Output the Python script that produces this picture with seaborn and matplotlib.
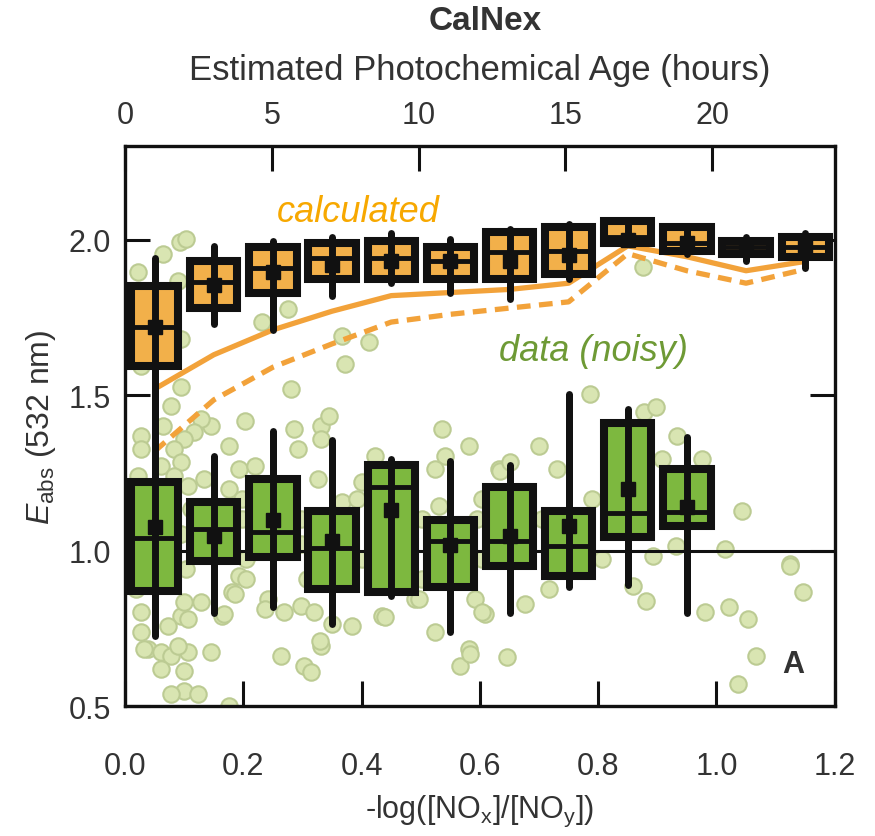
# CalNex E_abs box chart
import seaborn as sns
import matplotlib.pyplot as plt

# bin centres of -log(NOx/NOy)
calc_x = [0.05, 0.15, 0.25, 0.35, 0.45, 0.55, 0.65, 0.75, 0.85, 0.95, 1.05, 1.15]
data_x = [0.05, 0.15, 0.25, 0.35, 0.45, 0.55, 0.65, 0.75, 0.85, 0.95]

# calculated E_abs boxes (orange)
calc_lo = [1.30, 1.73, 1.71, 1.82, 1.86, 1.83, 1.81, 1.875, 1.99, 1.955, 1.93, 1.91]
calc_q1 = [1.595, 1.78, 1.83, 1.875, 1.875, 1.875, 1.875, 1.89, 1.99, 1.965, 1.955, 1.945]
calc_med = [1.72, 1.865, 1.91, 1.94, 1.94, 1.93, 1.96, 1.965, 2.01, 1.99, 1.975, 1.975]
calc_mean = [1.72, 1.855, 1.897, 1.92, 1.93, 1.93, 1.93, 1.95, 2.0, 1.99, 1.975, 1.975]
calc_q3 = [1.85, 1.93, 1.977, 1.99, 1.997, 1.977, 2.026, 2.04, 2.06, 2.04, 1.997, 2.01]
calc_hi = [1.94, 1.98, 1.997, 2.01, 2.02, 2.003, 2.035, 2.05, 2.06, 2.04, 2.01, 2.02]

# calculated curves
calc_solid = [1.52, 1.63, 1.71, 1.77, 1.82, 1.83, 1.84, 1.86, 1.98, 1.945, 1.90, 1.93]
calc_dash = [1.32, 1.485, 1.59, 1.665, 1.735, 1.76, 1.78, 1.80, 1.955, 1.90, 1.86, 1.905]

# measured E_abs boxes (green)
data_lo = [0.725, 0.80, 0.82, 0.765, 0.855, 0.74, 0.80, 0.883, 0.89, 0.80]
data_q1 = [0.87, 0.967, 0.98, 0.877, 0.867, 0.883, 0.95, 0.92, 1.045, 1.08]
data_med = [1.04, 1.07, 1.06, 1.01, 1.205, 1.03, 1.03, 1.015, 1.12, 1.124]
data_mean = [1.075, 1.047, 1.10, 1.03, 1.13, 1.02, 1.047, 1.08, 1.20, 1.14]
data_q3 = [1.22, 1.157, 1.23, 1.128, 1.275, 1.10, 1.205, 1.128, 1.41, 1.263]
data_hi = [1.45, 1.305, 1.385, 1.355, 1.295, 1.29, 1.275, 1.505, 1.455, 1.366]

# individual noisy data points
pts_x = [0.022, 0.064, 0.092, 0.103, 0.090, 0.276, 0.231, 0.366, 0.412, 0.095,
         0.027, 0.095, 0.078, 0.064, 0.027, 0.027, 0.146, 0.129, 0.117, 0.100,
         0.083, 0.061, 0.095, 0.176, 0.202, 0.192, 0.219, 0.281, 0.286, 0.293,
         0.332, 0.344, 0.332, 0.371, 0.536, 0.581, 0.541, 0.632, 0.422, 0.400,
         0.327, 0.366, 0.134, 0.107, 0.083, 0.022, 0.175, 0.197, 0.531, 0.524,
         0.786, 0.700, 0.634, 0.651, 0.878, 0.897, 0.934, 1.044, 1.014, 1.124,
         0.892, 0.931, 0.875, 0.095, 0.163, 0.107, 0.039, 0.180, 0.192, 0.242,
         0.269, 0.298, 0.320, 0.383, 0.332, 0.434, 0.524, 0.581, 0.490, 0.592,
         0.146, 0.264, 0.027, 0.032, 0.061, 0.078, 0.090, 0.061, 0.100, 0.100,
         0.078, 0.124, 0.176, 0.168, 0.185, 0.236, 0.302, 0.315, 0.329, 0.349,
         0.439, 0.497, 0.566, 0.583, 0.608, 0.027, 0.073, 0.107, 0.129, 0.100,
         0.646, 0.603, 0.676, 0.717, 0.858, 0.880, 0.980, 1.022, 1.053, 1.066,
         1.036, 1.125, 1.146, 0.019, 0.027, 0.095, 0.103, 0.197, 0.205, 0.298,
         0.307, 0.112, 0.205, 0.019, 0.298, 0.392, 0.400, 0.502, 0.502, 0.595,
         0.603, 0.705, 0.807, 0.790, 0.875, 0.908, 0.976, 0.603, 0.731]
pts_y = [1.897, 1.955, 1.994, 2.003, 1.868, 1.778, 1.736, 1.691, 1.672, 1.681,
         1.594, 1.527, 1.466, 1.401, 1.369, 1.327, 1.401, 1.424, 1.382, 1.360,
         1.327, 1.273, 1.285, 1.337, 1.417, 1.263, 1.273, 1.520, 1.392, 1.327,
         1.401, 1.434, 1.360, 1.601, 1.392, 1.337, 1.305, 1.263, 1.305, 1.221,
         1.231, 1.157, 1.231, 1.208, 1.240, 1.240, 1.199, 1.166, 1.144, 1.263,
         1.504, 1.337, 1.257, 1.285, 1.446, 1.463, 1.369, 1.128, 1.005, 0.957,
         0.983, 1.015, 1.913, 0.790, 0.790, 0.674, 0.684, 0.867, 0.919, 0.845,
         0.803, 0.822, 0.803, 0.758, 0.693, 0.790, 0.738, 0.684, 0.845, 0.845,
         0.674, 0.661, 0.803, 0.684, 0.674, 0.661, 0.693, 0.619, 0.613, 0.548,
         0.539, 0.539, 0.500, 0.796, 0.861, 0.812, 0.629, 0.610, 0.709, 0.764,
         0.787, 0.845, 0.629, 0.668, 0.796, 0.738, 0.758, 0.780, 0.835, 0.835,
         0.658, 0.803, 0.828, 0.877, 0.886, 0.838, 0.803, 0.819, 0.780, 0.661,
         0.571, 0.951, 0.867, 1.102, 0.973, 1.054, 0.941, 1.102, 0.973, 1.102,
         0.909, 1.134, 0.909, 0.877, 1.022, 1.166, 0.973, 1.102, 0.909, 1.102,
         0.973, 1.102, 0.973, 1.166, 1.102, 1.295, 1.295, 1.166, 1.263]

age_ticks = [0, 5, 10, 15, 20]
x_ticks = [0.0, 0.2, 0.4, 0.6, 0.8, 1.0, 1.2]
y_ticks = [0.5, 1.0, 1.5, 2.0]

sns.set_style("ticks")
plt.rcParams['font.family'] = ['Liberation Sans', 'DejaVu Sans']
plt.rcParams['mathtext.fontset'] = 'custom'
plt.rcParams['mathtext.rm'] = 'Liberation Sans'
plt.rcParams['mathtext.it'] = 'Liberation Sans:italic'

orange = '#F2B04A'
green = '#7DB83F'
line_orange = '#F2A23A'
ink = '#111111'

fig, ax = plt.subplots(figsize=(8.75, 8.37), dpi=100)
fig.subplots_adjust(left=0.143, right=0.954, top=0.824, bottom=0.155)

# background points
sns.scatterplot(x=pts_x, y=pts_y, s=140, color='#D9E5B2', edgecolor='#BCCB93',
                linewidth=1.5, zorder=1, ax=ax)

# reference line at 1
ax.axhline(1.0, color=ink, lw=2.2, zorder=1.5)

# calculated curves
sns.lineplot(x=calc_x, y=calc_solid, color=line_orange, lw=3.8, zorder=2.5, ax=ax)
sns.lineplot(x=calc_x, y=calc_dash, color=line_orange, lw=3.8, zorder=2.5,
             linestyle=(0, (2.6, 1.6)), ax=ax)


def draw_boxes(xs, lo, q1, med, mean, q3, hi, fill):
    stats = []
    for i in range(len(xs)):
        stats.append(dict(whislo=lo[i], q1=q1[i], med=med[i], mean=mean[i],
                          q3=q3[i], whishi=hi[i], fliers=[]))
    ax.bxp(stats, positions=xs, widths=0.08, patch_artist=True, showcaps=False,
           showmeans=True, manage_ticks=False,
           boxprops=dict(facecolor=fill, edgecolor=ink, linewidth=5.8, zorder=3),
           medianprops=dict(color=ink, linewidth=3.5, zorder=4),
           whiskerprops=dict(color=ink, linewidth=5, zorder=4),
           meanprops=dict(marker='s', markerfacecolor=ink, markeredgecolor=ink,
                          markersize=10, zorder=5))
    # whisker line running through the box
    ax.vlines(xs, lo, hi, color=ink, lw=5, zorder=4)


draw_boxes(data_x, data_lo, data_q1, data_med, data_mean, data_q3, data_hi, green)
draw_boxes(calc_x, calc_lo, calc_q1, calc_med, calc_mean, calc_q3, calc_hi, orange)

ax.set_xlim(0, 1.2)
ax.set_ylim(0.5, 2.3)
ax.set_xticks(x_ticks)
ax.set_xticklabels(['%.1f' % t for t in x_ticks])
ax.set_yticks(y_ticks)
ax.set_yticklabels(['%.1f' % t for t in y_ticks])
ax.tick_params(axis='x', direction='in', length=18, width=2.2, labelsize=22,
               pad=32, colors=ink, labelcolor='#333333')
ax.tick_params(axis='y', direction='in', length=18, width=2.2, labelsize=22,
               pad=10, right=True, colors=ink, labelcolor='#333333')
for s in ax.spines.values():
    s.set_linewidth(2.4)
    s.set_color(ink)

ax.set_xlabel('-log([NO$_\\mathrm{x}$]/[NO$_\\mathrm{y}$])', fontsize=22,
              color='#333333', labelpad=9)
ax.set_ylabel('$E_\\mathrm{abs}$ (532 nm)', fontsize=23, color='#333333',
              labelpad=8)

# photochemical age axis on top
top = ax.secondary_xaxis('top', functions=(lambda v: v * 20.15, lambda h: h / 20.15))
top.set_xticks(age_ticks)
top.tick_params(direction='in', length=18, width=2.2, labelsize=22, pad=12,
                colors=ink, labelcolor='#333333')
top.set_xlabel('Estimated Photochemical Age (hours)', fontsize=25,
               color='#333333', labelpad=15)
fig.text(0.555, 0.974, 'CalNex', fontsize=24, fontweight='bold', color='#333333',
         ha='center', va='center')

ax.text(0.256, 2.09, 'calculated', fontsize=26, style='italic', color='#F7A800',
        va='center', zorder=6)
ax.text(0.632, 1.643, 'data (noisy)', fontsize=26, style='italic', color='#6E9A35',
        va='center', zorder=6)
ax.text(1.13, 0.635, 'A', fontsize=22, fontweight='bold', color='#333333',
        ha='center', va='center', zorder=6)

plt.savefig('out.png', dpi=100)
